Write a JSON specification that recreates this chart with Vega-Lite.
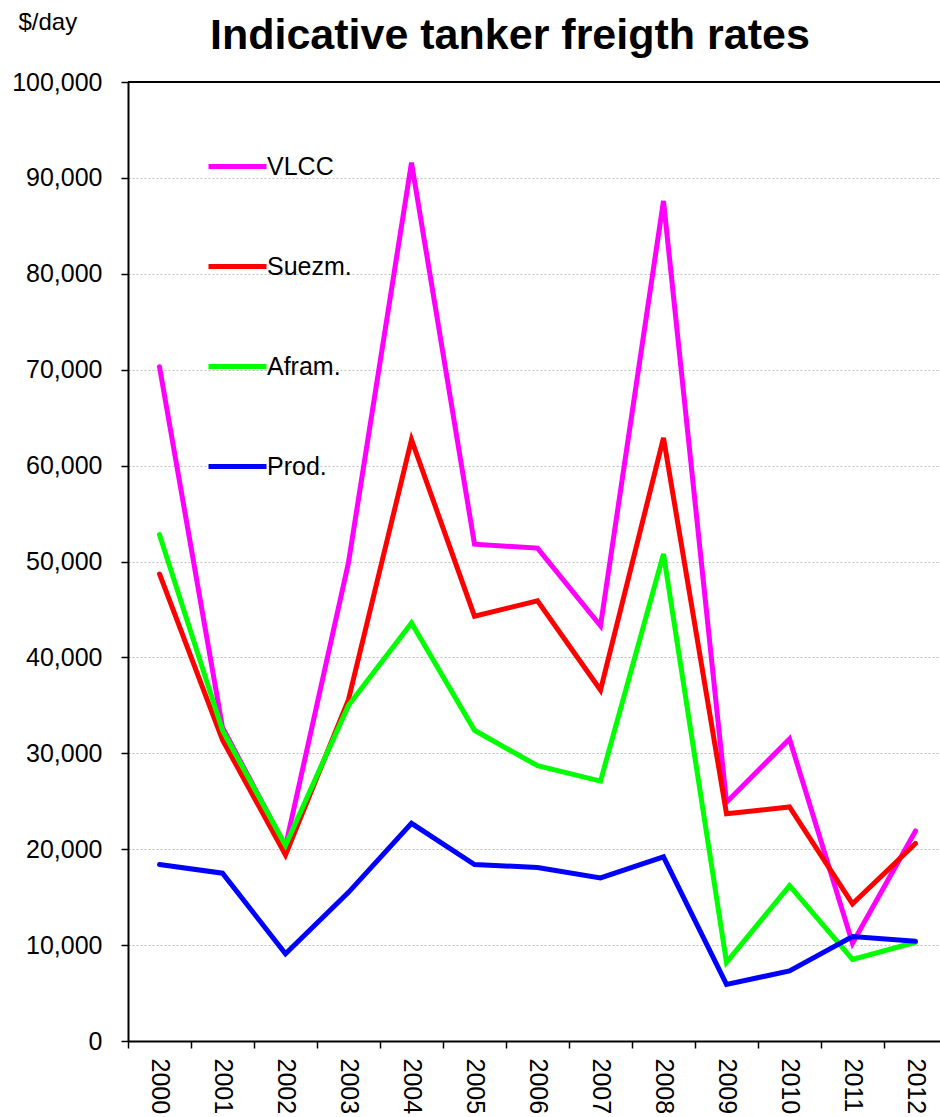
{
  "$schema": "https://vega.github.io/schema/vega-lite/v6.json",
  "autosize": {"type": "none"},
  "width": 812,
  "height": 959,
  "padding": {"left": 128, "top": 82, "right": 0, "bottom": 76},
  "background": "white",
  "title": {
    "text": "Indicative tanker freigth rates",
    "anchor": "start",
    "frame": "group",
    "dx": 82,
    "dy": 101,
    "offset": 19,
    "baseline": "alphabetic",
    "font": "Liberation Sans",
    "fontSize": 43,
    "fontWeight": "bold",
    "color": "black"
  },
  "data": {
    "values": [
      {"year": "2000", "series": "VLCC", "value": 70300},
      {"year": "2001", "series": "VLCC", "value": 32700},
      {"year": "2002", "series": "VLCC", "value": 20300},
      {"year": "2003", "series": "VLCC", "value": 49900},
      {"year": "2004", "series": "VLCC", "value": 91600},
      {"year": "2005", "series": "VLCC", "value": 51800},
      {"year": "2006", "series": "VLCC", "value": 51400},
      {"year": "2007", "series": "VLCC", "value": 43300},
      {"year": "2008", "series": "VLCC", "value": 87600},
      {"year": "2009", "series": "VLCC", "value": 24900},
      {"year": "2010", "series": "VLCC", "value": 31500},
      {"year": "2011", "series": "VLCC", "value": 10200},
      {"year": "2012", "series": "VLCC", "value": 21900},
      {"year": "2000", "series": "Suezm.", "value": 48700},
      {"year": "2001", "series": "Suezm.", "value": 31400},
      {"year": "2002", "series": "Suezm.", "value": 19400},
      {"year": "2003", "series": "Suezm.", "value": 35600},
      {"year": "2004", "series": "Suezm.", "value": 62700},
      {"year": "2005", "series": "Suezm.", "value": 44300},
      {"year": "2006", "series": "Suezm.", "value": 45900},
      {"year": "2007", "series": "Suezm.", "value": 36600},
      {"year": "2008", "series": "Suezm.", "value": 62900},
      {"year": "2009", "series": "Suezm.", "value": 23700},
      {"year": "2010", "series": "Suezm.", "value": 24400},
      {"year": "2011", "series": "Suezm.", "value": 14300},
      {"year": "2012", "series": "Suezm.", "value": 20600},
      {"year": "2000", "series": "Afram.", "value": 52800},
      {"year": "2001", "series": "Afram.", "value": 32400},
      {"year": "2002", "series": "Afram.", "value": 20400},
      {"year": "2003", "series": "Afram.", "value": 35000},
      {"year": "2004", "series": "Afram.", "value": 43600},
      {"year": "2005", "series": "Afram.", "value": 32400},
      {"year": "2006", "series": "Afram.", "value": 28700},
      {"year": "2007", "series": "Afram.", "value": 27100},
      {"year": "2008", "series": "Afram.", "value": 50800},
      {"year": "2009", "series": "Afram.", "value": 8200},
      {"year": "2010", "series": "Afram.", "value": 16200},
      {"year": "2011", "series": "Afram.", "value": 8500},
      {"year": "2012", "series": "Afram.", "value": 10300},
      {"year": "2000", "series": "Prod.", "value": 18400},
      {"year": "2001", "series": "Prod.", "value": 17500},
      {"year": "2002", "series": "Prod.", "value": 9100},
      {"year": "2003", "series": "Prod.", "value": 15500},
      {"year": "2004", "series": "Prod.", "value": 22700},
      {"year": "2005", "series": "Prod.", "value": 18400},
      {"year": "2006", "series": "Prod.", "value": 18100},
      {"year": "2007", "series": "Prod.", "value": 17000},
      {"year": "2008", "series": "Prod.", "value": 19200},
      {"year": "2009", "series": "Prod.", "value": 5900},
      {"year": "2010", "series": "Prod.", "value": 7300},
      {"year": "2011", "series": "Prod.", "value": 10900},
      {"year": "2012", "series": "Prod.", "value": 10400}
    ]
  },
  "encoding": {
    "y": {
      "field": "value",
      "type": "quantitative",
      "scale": {"domain": [0, 100000], "nice": false, "zero": true},
      "axis": {
        "values": [0, 10000, 20000, 30000, 40000, 50000, 60000, 70000, 80000, 90000, 100000],
        "format": ",d",
        "title": "$/day",
        "titleAngle": 0,
        "titleAlign": "left",
        "titleBaseline": "alphabetic",
        "titleX": -110,
        "titleY": -53,
        "titleFont": "Liberation Sans",
        "titleFontSize": 24,
        "titleFontWeight": "normal",
        "titleColor": "black",
        "labelPadding": 19,
        "grid": true,
        "gridColor": "#bdbdbd",
        "gridDash": [2, 2],
        "gridWidth": 1
      }
    }
  },
  "layer": [
    {
      "mark": {"type": "line", "strokeWidth": 5, "strokeCap": "round"},
      "encoding": {
        "x": {
          "field": "year",
          "type": "ordinal",
          "bandPosition": 0.5,
          "scale": {"type": "band", "paddingInner": 0, "paddingOuter": 0, "range": [0, 819]},
          "axis": {
            "title": null,
            "labelAngle": 90,
            "labelAlign": "left",
            "labelBaseline": "middle",
            "labelPadding": 10,
            "tickBand": "extent",
            "grid": false
          }
        },
        "color": {
          "field": "series",
          "type": "nominal",
          "sort": ["VLCC", "Suezm.", "Afram.", "Prod."],
          "scale": {
            "domain": ["VLCC", "Suezm.", "Afram.", "Prod."],
            "range": ["#ff00ff", "#ff0000", "#00ff00", "#0000ff"]
          },
          "legend": {
            "orient": "none",
            "legendX": 78,
            "legendY": 53,
            "title": null,
            "symbolType": "stroke",
            "symbolSize": 3364,
            "symbolStrokeWidth": 5,
            "labelFont": "Liberation Sans",
            "labelFontSize": 25,
            "labelColor": "black",
            "labelOffset": -2,
            "rowPadding": 55,
            "padding": 0,
            "symbolOffset": 0
          }
        }
      }
    },
    {
      "mark": {"type": "rule", "color": "black", "strokeWidth": 2},
      "encoding": {"y": {"datum": 100000}}
    }
  ],
  "config": {
    "view": {"stroke": null},
    "axis": {
      "domainColor": "black",
      "domainWidth": 2,
      "tickColor": "black",
      "tickWidth": 1.5,
      "tickSize": 7,
      "labelFont": "Liberation Sans",
      "labelFontSize": 25,
      "labelColor": "black"
    }
  }
}
